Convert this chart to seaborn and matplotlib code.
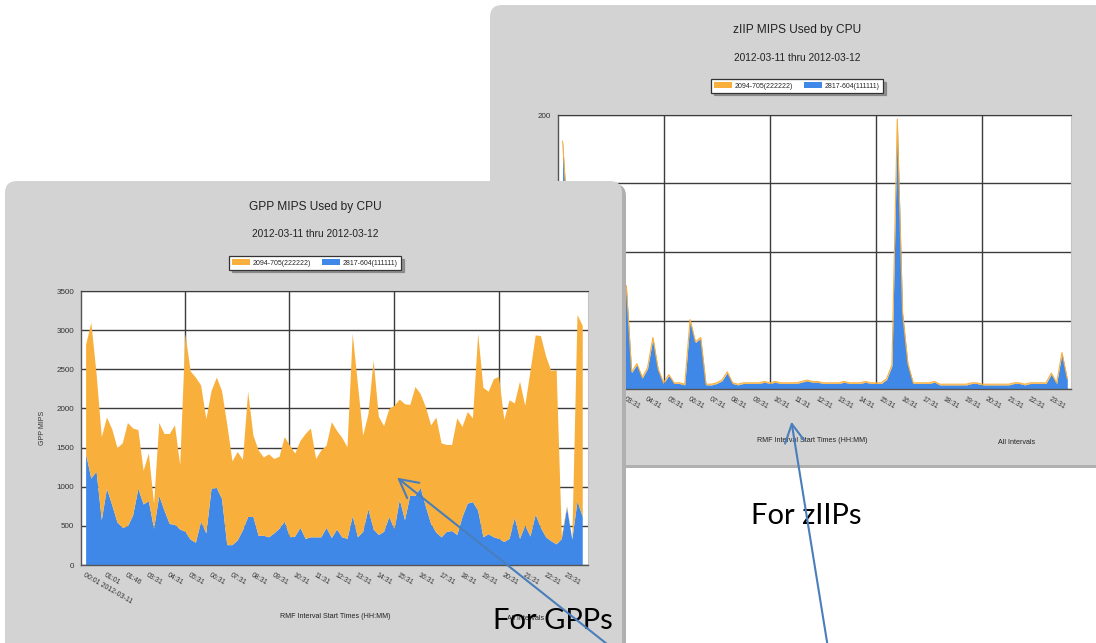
import matplotlib
matplotlib.use('Agg')
import matplotlib.pyplot as plt
import seaborn as sns
import numpy as np
from matplotlib.patches import FancyBboxPatch, FancyArrowPatch, Patch

W, H = 1096, 643

# tick labels, one every 4th 15-minute interval
tick_labels = ['00:01 2012-03-11', '01:01', '01:46', '03:31', '04:31', '05:31', '06:31',
               '07:31', '08:31', '09:31', '10:31', '11:31', '12:31', '13:31', '14:31',
               '15:31', '16:31', '17:31', '18:31', '19:31', '20:31', '21:31', '22:31', '23:31']
series_names = ['2094-705(222222)', '2817-604(111111)']

# GPP MIPS per interval
gpp_2817 = [1420, 1110, 1200, 580, 980, 770, 550, 480, 500, 640, 980, 780,
            820, 470, 890, 700, 530, 520, 460, 430, 330, 290, 560, 410,
            980, 990, 850, 260, 260, 320, 450, 620, 620, 380, 380, 360,
            410, 470, 560, 360, 370, 480, 340, 360, 360, 360, 480, 350,
            460, 360, 340, 630, 360, 430, 720, 460, 390, 430, 620, 460,
            840, 580, 890, 890, 990, 750, 530, 420, 360, 430, 440, 390,
            620, 790, 810, 700, 360, 400, 360, 340, 300, 340, 610, 340,
            510, 370, 650, 480, 360, 310, 270, 340, 740, 330, 820, 620]
gpp_2094 = [1400, 1990, 1250, 1060, 910, 970, 950, 1080, 1320, 1110, 750, 430,
            610, 320, 930, 980, 1150, 1270, 820, 2530, 2150, 2110, 1740, 1460,
            1250, 1410, 1380, 1540, 1070, 1130, 900, 1600, 1040, 1090, 1000, 1060,
            950, 920, 1080, 1170, 1060, 1110, 1340, 1390, 1000, 1110, 1050, 1480,
            1260, 1270, 1170, 2330, 1950, 1230, 1210, 2160, 1510, 1350, 1380, 1580,
            1280, 1480, 1160, 1390, 1200, 1270, 1260, 1470, 1200, 1110, 1100, 1490,
            1150, 1170, 1070, 2260, 1910, 1820, 2020, 2070, 1560, 1770, 1460, 2010,
            1530, 2110, 2290, 2450, 2310, 2170, 2230, 40, 20, 0, 2380, 2440]

# zIIP MIPS per interval
ziip_2817 = [180, 120, 60, 30, 20, 15, 25, 12, 10, 20, 15, 30,
             75, 12, 18, 8, 15, 37, 14, 4, 10, 4, 4, 3,
             50, 34, 37, 3, 3, 4, 6, 12, 4, 3, 4, 4,
             4, 4, 5, 4, 5, 4, 4, 4, 4, 5, 6, 5,
             5, 4, 4, 4, 4, 5, 4, 4, 4, 5, 4, 4,
             4, 7, 17, 196, 55, 18, 4, 4, 4, 4, 5, 3,
             3, 3, 3, 3, 3, 4, 4, 3, 3, 3, 3, 3,
             3, 4, 4, 3, 4, 4, 4, 4, 11, 4, 26, 7]
ziip_2094 = [1.0, 0.8, 0.6, 0.6, 0.5, 0.5, 0.6, 0.5, 0.5, 0.5, 0.5, 0.6,
             0.6, 0.5, 0.5, 0.5, 0.5, 0.6, 0.5, 0.5, 0.5, 0.5, 0.5, 0.5,
             0.7, 0.6, 0.6, 0.5, 0.5, 0.5, 0.5, 0.5, 0.5, 0.5, 0.5, 0.5,
             0.5, 0.5, 0.5, 0.5, 0.5, 0.5, 0.5, 0.5, 0.5, 0.5, 0.5, 0.5,
             0.5, 0.5, 0.5, 0.5, 0.5, 0.5, 0.5, 0.5, 0.5, 0.5, 0.5, 0.5,
             0.5, 0.5, 0.6, 1.0, 0.7, 0.6, 0.5, 0.5, 0.5, 0.5, 0.5, 0.5,
             0.5, 0.5, 0.5, 0.5, 0.5, 0.5, 0.5, 0.5, 0.5, 0.5, 0.5, 0.5,
             0.5, 0.5, 0.5, 0.5, 0.5, 0.5, 0.5, 0.5, 0.6, 0.5, 0.6, 0.5]

ORANGE = '#F8AF3C'
BLUE = '#3F88E8'
PANEL = '#D3D3D3'
ARROW = '#4A7EBB'

sns.set_style('white')
plt.rcParams['font.family'] = ['Liberation Sans', 'DejaVu Sans']

fig = plt.figure(figsize=(W / 100, H / 100), dpi=100)
fig.patch.set_facecolor('white')


def fx(x):
    return x / W


def fy(y):
    return 1 - y / H


def draw_panel(x0, y0, x1, y1, z):
    for dx, dy, c, zz in [(4, 3, '#B0B0B0', z), (0, 0, PANEL, z + 0.01)]:
        p = FancyBboxPatch((fx(x0 + dx), fy(y1 + dy)), (x1 - x0) / W, (y1 - y0) / H,
                           boxstyle='round,pad=0,rounding_size=0.011',
                           mutation_aspect=W / H, transform=fig.transFigure,
                           fc=c, ec='none', zorder=zz)
        fig.patches.append(p)


def draw_chart(rect, z, top_vals, base_vals, ymax, ystep, ylabel, edge, xlim):
    ax = fig.add_axes([fx(rect[0]), fy(rect[3]), (rect[2] - rect[0]) / W,
                       (rect[3] - rect[1]) / H])
    ax.set_zorder(z)
    ax.set_facecolor('white')
    idx = np.arange(len(base_vals))
    base = np.array(base_vals, dtype=float)
    top = base + np.array(top_vals, dtype=float)
    ax.fill_between(idx, 0, base, color=BLUE, lw=0, zorder=2)
    ax.fill_between(idx, base, top, color=ORANGE, lw=0, zorder=2)
    if edge:
        sns.lineplot(x=idx, y=top, ax=ax, color=ORANGE, lw=0.8, zorder=3)
    ax.set_xlim(*xlim)
    ax.set_ylim(0, ymax)
    ax.set_yticks(np.arange(0, ymax + 1, ystep))
    ax.set_xticks(idx[::4])
    ax.set_xticklabels(tick_labels, rotation=-30, ha='left', va='top',
                       rotation_mode='anchor', fontsize=5, color='#333333')
    ax.set_xticks(idx, minor=True)
    ax.tick_params(axis='both', which='both', direction='out', length=3.5, width=0.8,
                   color='#555555', pad=1.5)
    ax.tick_params(axis='y', labelsize=5.8, labelcolor='#333333')
    ax.set_axisbelow(True)
    ax.yaxis.grid(True, color='#3C3C3C', lw=1.0)
    for gx in [19, 39, 59, 79]:
        ax.axvline(gx, color='#3C3C3C', lw=1.0, zorder=0.6)
    for s in ['left', 'bottom']:
        ax.spines[s].set_color('#555555')
        ax.spines[s].set_linewidth(1.0)
    ax.spines['top'].set_color('#3C3C3C')
    ax.spines['right'].set_color('#C4C4C4')
    ax.set_xlabel('')
    ax.set_ylabel(ylabel, fontsize=5, color='#333333')
    ax.yaxis.set_label_coords(-0.07, 0.5)
    return ax


def add_legend(ax, cx, cy):
    handles = [Patch(fc=ORANGE, ec='none'), Patch(fc=BLUE, ec='none')]
    leg = ax.legend(handles, series_names, loc='center', bbox_to_anchor=(fx(cx), fy(cy)),
                    bbox_transform=fig.transFigure, ncol=2, fontsize=5, frameon=True,
                    fancybox=False, edgecolor='#333333', framealpha=1, handlelength=2.6,
                    handleheight=0.8, columnspacing=1.6, handletextpad=0.4, borderpad=0.45,
                    shadow={'color': '#777777', 'alpha': 0.7})
    leg.get_frame().set_linewidth(0.9)


# back panel: zIIP
draw_panel(490, 5, 1110, 465, 0.10)
ax_z = draw_chart((558, 115, 1071, 389), 0.20, ziip_2094, ziip_2817, 200, 50,
                  'zIIP MIPS', True, (-0.86, 95.7))
add_legend(ax_z, 797, 86)
fig.text(fx(797), fy(30), 'zIIP MIPS Used by CPU', ha='center', va='center',
         fontsize=8.6, color='#222222', zorder=0.3)
fig.text(fx(797), fy(58), '2012-03-11 thru 2012-03-12', ha='center', va='center',
         fontsize=7.3, color='#222222', zorder=0.3)
fig.text(fx(812), fy(441), 'RMF Interval Start Times (HH:MM)', ha='center', va='center',
         fontsize=5.1, color='#222222', zorder=0.3)
fig.text(fx(1017), fy(442), 'All Intervals', ha='center', va='center',
         fontsize=5.1, color='#222222', zorder=0.3)

# front panel: GPP
draw_panel(5, 181, 622, 700, 0.50)
ax_g = draw_chart((81, 291, 588, 565), 0.60, gpp_2094, gpp_2817, 3500, 500,
                  'GPP MIPS', False, (-0.88, 96.1))
add_legend(ax_g, 315, 263)
fig.text(fx(315), fy(207), 'GPP MIPS Used by CPU', ha='center', va='center',
         fontsize=8.6, color='#222222', zorder=0.7)
fig.text(fx(315), fy(234), '2012-03-11 thru 2012-03-12', ha='center', va='center',
         fontsize=7.3, color='#222222', zorder=0.7)
fig.text(fx(335), fy(617), 'RMF Interval Start Times (HH:MM)', ha='center', va='center',
         fontsize=5.1, color='#222222', zorder=0.7)
fig.text(fx(526), fy(618), 'All Intervals', ha='center', va='center',
         fontsize=5.1, color='#222222', zorder=0.7)

# callouts
fig.text(fx(806), fy(516), 'For zIIPs', ha='center', va='center', fontsize=21,
         family=['Lato', 'DejaVu Sans'], color='black', zorder=1.0)
fig.text(fx(553), fy(621), 'For GPPs', ha='center', va='center', fontsize=21,
         family=['Lato', 'DejaVu Sans'], color='black', zorder=1.0)
for (xa, ya), (xb, yb) in [((612, 648), (395, 476)), ((828, 648), (791, 419))]:
    arr = FancyArrowPatch((fx(xa), fy(ya)), (fx(xb), fy(yb)), transform=fig.transFigure,
                          arrowstyle='->,head_length=0.6,head_width=0.32',
                          mutation_scale=22, color=ARROW, lw=1.5, zorder=1.1)
    fig.patches.append(arr)

fig.savefig('out.png', dpi=100)
